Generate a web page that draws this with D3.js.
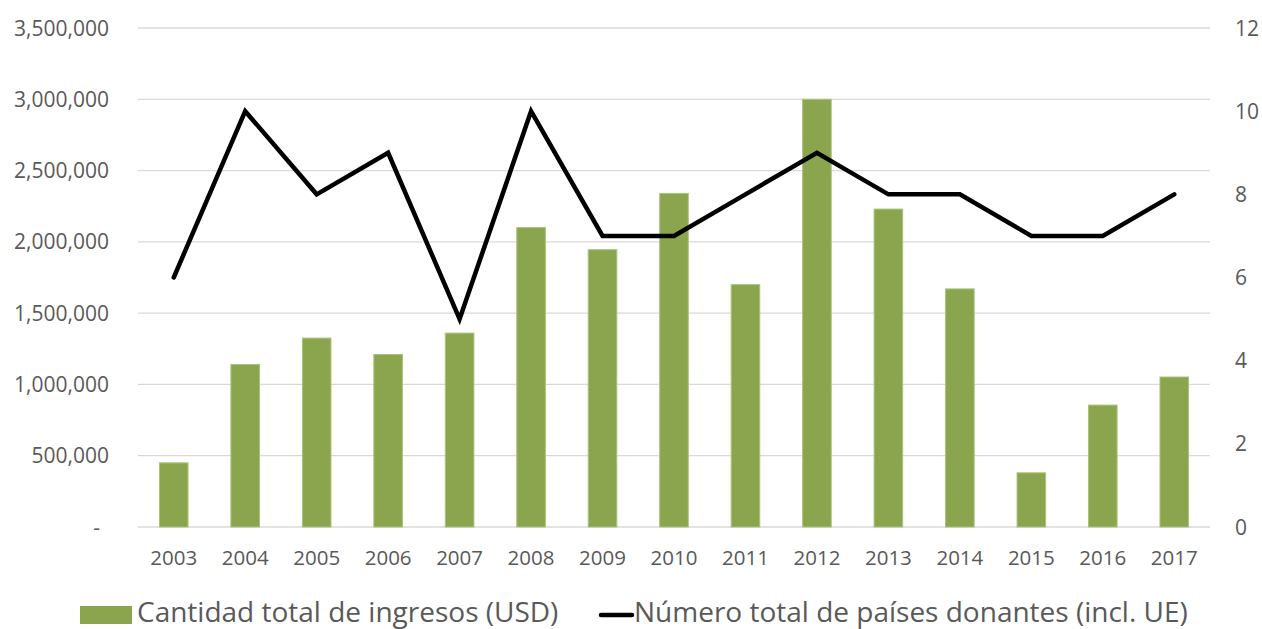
<!DOCTYPE html>
<html>
<head>
<meta charset="utf-8">
<script src="https://cdn.jsdelivr.net/npm/d3@7"></script>
<style>
  body { margin: 0; background: #fff; }
  svg text { font-family: "Open Sans", sans-serif; fill: #595959; }
</style>
</head>
<body>
<div id="chart"></div>
<script>
// data
const years = ["2003","2004","2005","2006","2007","2008","2009","2010","2011","2012","2013","2014","2015","2016","2017"];
const ingresos = [450000, 1140000, 1325000, 1210000, 1360000, 2100000, 1945000, 2340000, 1700000, 3000000, 2230000, 1670000, 380000, 855000, 1052000];
const donantes = [6, 10, 8, 9, 5, 10, 7, 7, 8, 9, 8, 8, 7, 7, 8];
const leftTicks = [0, 500000, 1000000, 1500000, 2000000, 2500000, 3000000, 3500000];
const rightTicks = [0, 2, 4, 6, 8, 10, 12];

const width = 1262, height = 629;
const plotL = 138, plotR = 1210, plotT = 28, plotB = 527;

const svg = d3.select("#chart").append("svg")
  .attr("width", width)
  .attr("height", height);

const x = d3.scaleBand().domain(years).range([plotL, plotR]).padding(0);
const y = d3.scaleLinear().domain([0, 3500000]).range([plotB, plotT]);
const y2 = d3.scaleLinear().domain([0, 12]).range([plotB, plotT]);

// gridlines
svg.append("g")
  .selectAll("line")
  .data(leftTicks)
  .enter().append("line")
    .attr("x1", plotL).attr("x2", plotR)
    .attr("y1", d => y(d)).attr("y2", d => y(d))
    .style("stroke", "#d9d9d9")
    .style("stroke-width", 1.3);

// left axis labels
svg.append("g")
  .selectAll("text")
  .data(leftTicks)
  .enter().append("text")
    .attr("x", d => d === 0 ? 100 : 109)
    .attr("y", d => y(d) + 7.5)
    .style("text-anchor", "end")
    .style("font-size", "21px")
    .text(d => d === 0 ? "-" : d3.format(",")(d));

// right axis labels
svg.append("g")
  .selectAll("text")
  .data(rightTicks)
  .enter().append("text")
    .attr("x", 1235)
    .attr("y", d => y2(d) + 7.5)
    .style("font-size", "21px")
    .text(d => d);

// x labels
svg.append("g")
  .selectAll("text")
  .data(years)
  .enter().append("text")
    .attr("x", d => x(d) + x.bandwidth() / 2)
    .attr("y", 565)
    .style("text-anchor", "middle")
    .style("font-size", "20.5px")
    .text(d => d);

// bars
const barW = x.bandwidth() * 0.4;
svg.append("g")
  .selectAll("rect")
  .data(years)
  .enter().append("rect")
    .attr("x", d => x(d) + (x.bandwidth() - barW) / 2)
    .attr("y", (d, i) => y(ingresos[i]))
    .attr("width", barW)
    .attr("height", (d, i) => plotB - y(ingresos[i]))
    .style("fill", "#8aa54e")
    .style("stroke", "#a9c47a")
    .style("stroke-width", 1);

// line
const line = d3.line()
  .x((d, i) => x(years[i]) + x.bandwidth() / 2)
  .y(d => y2(d));
svg.append("path")
  .datum(donantes)
  .attr("d", line)
  .style("fill", "none")
  .style("stroke", "#000")
  .style("stroke-width", 4.5)
  .style("stroke-linejoin", "miter")
  .style("stroke-linecap", "round");

// legend
const lg = svg.append("g");
lg.append("rect")
  .attr("x", 80).attr("y", 606)
  .attr("width", 52).attr("height", 18)
  .style("fill", "#8aa54e");
lg.append("text")
  .attr("x", 137).attr("y", 622)
  .style("font-size", "28px")
  .text("Cantidad total de ingresos (USD)");
lg.append("line")
  .attr("x1", 601).attr("x2", 632)
  .attr("y1", 615).attr("y2", 615)
  .style("stroke", "#000")
  .style("stroke-width", 4.5)
  .style("stroke-linecap", "round");
lg.append("text")
  .attr("x", 634).attr("y", 622)
  .style("font-size", "28px")
  .text("Número total de países donantes (incl. UE)");
</script>
</body>
</html>
